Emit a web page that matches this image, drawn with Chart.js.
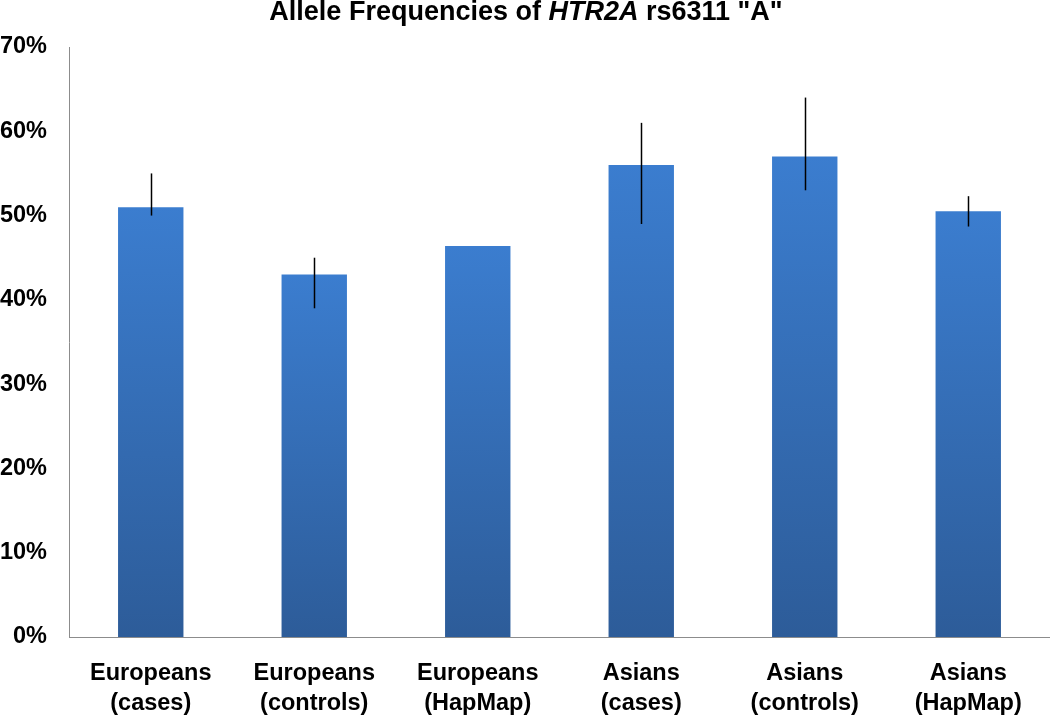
<!DOCTYPE html>
<html>
<head>
<meta charset="utf-8">
<script src="https://cdn.jsdelivr.net/npm/chart.js@4/dist/chart.umd.min.js"></script>
<style>
  html, body { margin: 0; padding: 0; background: #ffffff; }
  #wrap { width: 1050px; height: 715px; position: relative; }
</style>
</head>
<body>
<div id="wrap"><canvas id="c" width="1050" height="715"></canvas></div>
<script>
// ---- data ----
const categories = [
  ["Europeans", "(cases)"],
  ["Europeans", "(controls)"],
  ["Europeans", "(HapMap)"],
  ["Asians", "(cases)"],
  ["Asians", "(controls)"],
  ["Asians", "(HapMap)"]
];
const frequencies = [51, 43, 46.4, 56, 57, 50.5];
const errorHigh = [55, 45, null, 61, 64, 52.3];
const errorLow = [50, 39, null, 49, 53, 48.7];
const yTicks = [0, 10, 20, 30, 40, 50, 60, 70];
const titleParts = [
  { text: "Allele Frequencies of ", italic: false },
  { text: "HTR2A", italic: true },
  { text: " rs6311 \"A\"", italic: false }
];

const FONT = "'Liberation Sans', Arial, sans-serif";

const errorBarPlugin = {
  id: 'errorBars',
  afterDatasetsDraw(chart) {
    const ctx = chart.ctx;
    const meta = chart.getDatasetMeta(0);
    const y = chart.scales.y;
    ctx.save();
    ctx.strokeStyle = '#000000';
    ctx.lineWidth = 1.5;
    meta.data.forEach((bar, i) => {
      if (errorHigh[i] == null || errorLow[i] == null) return;
      const x = Math.round(bar.x) + 0.5;
      ctx.beginPath();
      ctx.moveTo(x, y.getPixelForValue(errorHigh[i]));
      ctx.lineTo(x, y.getPixelForValue(errorLow[i]));
      ctx.stroke();
    });
    ctx.restore();
  }
};

const titlePlugin = {
  id: 'mixedTitle',
  afterDraw(chart) {
    const ctx = chart.ctx;
    ctx.save();
    ctx.fillStyle = '#000000';
    ctx.textBaseline = 'alphabetic';
    const size = 27;
    const fonts = titleParts.map(p => (p.italic ? 'italic ' : '') + 'bold ' + size + 'px ' + FONT);
    let total = 0;
    const widths = titleParts.map((p, i) => { ctx.font = fonts[i]; const w = ctx.measureText(p.text).width; total += w; return w; });
    let x = 526 - total / 2;
    titleParts.forEach((p, i) => {
      ctx.font = fonts[i];
      ctx.fillText(p.text, x, 20);
      x += widths[i];
    });
    ctx.restore();
  }
};

function barGradient(context) {
  const chart = context.chart;
  const area = chart.chartArea;
  if (!area || !chart.scales.y) return '#3877c4';
  const y = chart.scales.y;
  const v = frequencies[context.dataIndex];
  const top = y.getPixelForValue(v);
  const bottom = y.getPixelForValue(0);
  const g = chart.ctx.createLinearGradient(0, top, 0, bottom);
  g.addColorStop(0, '#3b7dcf');
  g.addColorStop(1, '#2d5c99');
  return g;
}

new Chart(document.getElementById('c'), {
  type: 'bar',
  data: {
    labels: categories,
    datasets: [{
      data: frequencies,
      backgroundColor: barGradient,
      borderWidth: 0,
      categoryPercentage: 1.0,
      barPercentage: 0.4
    }]
  },
  options: {
    responsive: false,
    animation: false,
    devicePixelRatio: 1,
    layout: { padding: { top: 47, left: 0, right: 0, bottom: 0 } },
    plugins: {
      legend: { display: false },
      title: { display: false },
      tooltip: { enabled: false }
    },
    scales: {
      x: {
        grid: { display: false, drawTicks: false },
        border: { display: true, color: '#8c8c8c', width: 1 },
        ticks: {
          color: '#000000',
          font: { family: FONT, size: 23.5, weight: 'bold', lineHeight: 1.25 },
          padding: 22,
          maxRotation: 0,
          autoSkip: false
        },
        afterFit(scale) { scale.height = 78; }
      },
      y: {
        min: 0,
        max: 70,
        grid: { display: false, drawTicks: false },
        border: { display: true, color: '#8c8c8c', width: 1 },
        afterBuildTicks(scale) { scale.ticks = yTicks.map(v => ({ value: v })); },
        ticks: {
          color: '#000000',
          font: { family: FONT, size: 23.5, weight: 'bold' },
          padding: 22,
          callback: v => v + '%'
        },
        afterFit(scale) { scale.width = 69; }
      }
    }
  },
  plugins: [errorBarPlugin, titlePlugin]
});
</script>
</body>
</html>
